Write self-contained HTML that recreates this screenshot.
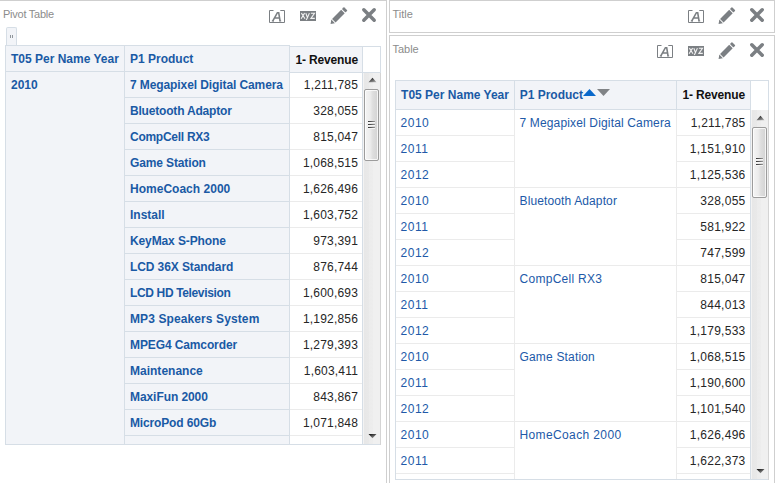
<!DOCTYPE html><html><head><meta charset="utf-8"><style>
html,body{margin:0;padding:0;background:#fff;}
body{width:775px;height:483px;overflow:hidden;position:relative;font-family:"Liberation Sans", sans-serif;}
div,svg{position:absolute;}
.t{font-size:12px;line-height:14px;white-space:nowrap;}
</style></head><body>
<div style="left:-1px;top:0px;width:388px;height:520px;box-sizing:border-box;border:1px solid #cfcfcf"></div>
<div style="left:389px;top:0px;width:386px;height:33px;box-sizing:border-box;border:1px solid #cfcfcf"></div>
<div style="left:389px;top:35px;width:386px;height:520px;box-sizing:border-box;border:1px solid #cfcfcf"></div>
<div style="left:3px;top:8px;font-size:11px;line-height:13px;color:#8c8c8c;letter-spacing:-0.25px">Pivot Table</div>
<div style="left:392.4px;top:8px;font-size:11px;line-height:13px;color:#8c8c8c">Title</div>
<div style="left:392.4px;top:43px;font-size:11px;line-height:13px;color:#8c8c8c">Table</div>
<svg style="left:269px;top:10px" width="16" height="13" viewBox="0 0 16 13">
<path d="M0.5 12.5V0.5H4.5M11.3 0.5H15.5V12.5H0.5" fill="none" stroke="#7b7f83" stroke-width="1"/>
<path d="M3.7 11.2L8.4 2.7H9.7L11.1 11.2M5.3 8.0H10.6" fill="none" stroke="#7b7f83" stroke-width="1.6"/>
<path d="M2.8 11.0H5.0M10.2 11.0H12.2" fill="none" stroke="#7b7f83" stroke-width="1"/>
</svg>
<svg style="left:300px;top:11px" width="16" height="10" viewBox="0 0 16 10">
<rect x="0" y="0" width="16" height="10" fill="#7b7f83"/>
<path d="M1.4 2.1L5.0 7.7M4.6 2.1L1.1 7.7M5.8 2.1L7.7 7.3M9.4 2.1L6.8 8.0Q6.5 8.7 5.9 8.7M10.9 2.3H14.5L10.9 7.4H14.8" fill="none" stroke="#f2f2f2" stroke-width="1.1"/>
</svg>
<svg style="left:328px;top:4px" width="22" height="25" viewBox="328 4 22 25">
<g transform="rotate(45 338 16.5)" fill="#7b7f83">
<rect x="335.5" y="5.6" width="5" height="2.9" rx="0.7"/>
<rect x="335.5" y="9.5" width="5" height="12.9"/>
<path d="M335.5 23.4H340.5L338 27.0Z"/>
</g></svg>
<svg style="left:359px;top:5px" width="20" height="20" viewBox="359 5 20 20">
<path d="M363.8 9.8L374.2 20.2M374.2 9.8L363.8 20.2" stroke="#7b7f83" stroke-width="3.5" stroke-linecap="round"/>
</svg>
<svg style="left:688px;top:10px" width="16" height="13" viewBox="0 0 16 13">
<path d="M0.5 12.5V0.5H4.5M11.3 0.5H15.5V12.5H0.5" fill="none" stroke="#7b7f83" stroke-width="1"/>
<path d="M3.7 11.2L8.4 2.7H9.7L11.1 11.2M5.3 8.0H10.6" fill="none" stroke="#7b7f83" stroke-width="1.6"/>
<path d="M2.8 11.0H5.0M10.2 11.0H12.2" fill="none" stroke="#7b7f83" stroke-width="1"/>
</svg>
<svg style="left:716px;top:4px" width="22" height="25" viewBox="716 4 22 25">
<g transform="rotate(45 726 16.5)" fill="#7b7f83">
<rect x="723.5" y="5.6" width="5" height="2.9" rx="0.7"/>
<rect x="723.5" y="9.5" width="5" height="12.9"/>
<path d="M723.5 23.4H728.5L726 27.0Z"/>
</g></svg>
<svg style="left:747px;top:5px" width="20" height="20" viewBox="747 5 20 20">
<path d="M751.8 9.8L762.2 20.2M762.2 9.8L751.8 20.2" stroke="#7b7f83" stroke-width="3.5" stroke-linecap="round"/>
</svg>
<svg style="left:657px;top:45px" width="16" height="13" viewBox="0 0 16 13">
<path d="M0.5 12.5V0.5H4.5M11.3 0.5H15.5V12.5H0.5" fill="none" stroke="#7b7f83" stroke-width="1"/>
<path d="M3.7 11.2L8.4 2.7H9.7L11.1 11.2M5.3 8.0H10.6" fill="none" stroke="#7b7f83" stroke-width="1.6"/>
<path d="M2.8 11.0H5.0M10.2 11.0H12.2" fill="none" stroke="#7b7f83" stroke-width="1"/>
</svg>
<svg style="left:688px;top:46px" width="16" height="10" viewBox="0 0 16 10">
<rect x="0" y="0" width="16" height="10" fill="#7b7f83"/>
<path d="M1.4 2.1L5.0 7.7M4.6 2.1L1.1 7.7M5.8 2.1L7.7 7.3M9.4 2.1L6.8 8.0Q6.5 8.7 5.9 8.7M10.9 2.3H14.5L10.9 7.4H14.8" fill="none" stroke="#f2f2f2" stroke-width="1.1"/>
</svg>
<svg style="left:716px;top:39px" width="22" height="25" viewBox="716 39 22 25">
<g transform="rotate(45 726 51.5)" fill="#7b7f83">
<rect x="723.5" y="40.6" width="5" height="2.9" rx="0.7"/>
<rect x="723.5" y="44.5" width="5" height="12.9"/>
<path d="M723.5 58.4H728.5L726 62.0Z"/>
</g></svg>
<svg style="left:747px;top:40px" width="20" height="20" viewBox="747 40 20 20">
<path d="M751.8 44.8L762.2 55.2M762.2 44.8L751.8 55.2" stroke="#7b7f83" stroke-width="3.5" stroke-linecap="round"/>
</svg>
<div style="left:6px;top:27px;width:11px;height:19px;box-sizing:border-box;border:1px solid #d6dee6;border-bottom:none;border-radius:2px 2px 0 0;background:#f2f4f8"></div>
<div style="left:10px;top:35px;width:1px;height:3px;background:#8f959b"></div>
<div style="left:12px;top:35px;width:1px;height:3px;background:#8f959b"></div>
<div style="left:5px;top:45px;width:285px;height:400px;background:#f2f4f8"></div>
<div style="left:289px;top:46px;width:74px;height:399px;background:#fff"></div>
<div style="left:5px;top:45px;width:285px;height:1px;background:#d6dee6"></div>
<div style="left:5px;top:71px;width:285px;height:1px;background:#d6dee6"></div>
<div style="left:124px;top:97px;width:166px;height:1px;background:#d6dee6"></div>
<div style="left:124px;top:123px;width:166px;height:1px;background:#d6dee6"></div>
<div style="left:124px;top:149px;width:166px;height:1px;background:#d6dee6"></div>
<div style="left:124px;top:175px;width:166px;height:1px;background:#d6dee6"></div>
<div style="left:124px;top:201px;width:166px;height:1px;background:#d6dee6"></div>
<div style="left:124px;top:227px;width:166px;height:1px;background:#d6dee6"></div>
<div style="left:124px;top:253px;width:166px;height:1px;background:#d6dee6"></div>
<div style="left:124px;top:279px;width:166px;height:1px;background:#d6dee6"></div>
<div style="left:124px;top:305px;width:166px;height:1px;background:#d6dee6"></div>
<div style="left:124px;top:331px;width:166px;height:1px;background:#d6dee6"></div>
<div style="left:124px;top:357px;width:166px;height:1px;background:#d6dee6"></div>
<div style="left:124px;top:383px;width:166px;height:1px;background:#d6dee6"></div>
<div style="left:124px;top:409px;width:166px;height:1px;background:#d6dee6"></div>
<div style="left:124px;top:435px;width:166px;height:1px;background:#d6dee6"></div>
<div style="left:5px;top:444px;width:376px;height:1px;background:#d6dee6"></div>
<div style="left:5px;top:45px;width:1px;height:400px;background:#d6dee6"></div>
<div style="left:124px;top:45px;width:1px;height:400px;background:#d6dee6"></div>
<div style="left:289px;top:45px;width:1px;height:400px;background:#d6dee6"></div>
<div style="left:289px;top:46px;width:92px;height:1px;background:#d6dee6"></div>
<div style="left:290px;top:47px;width:72px;height:25px;background:#f2f4f8"></div>
<div style="left:289px;top:72px;width:92px;height:1px;background:#d6dee6"></div>
<div style="left:290px;top:97px;width:72px;height:1px;background:#ebebeb"></div>
<div style="left:290px;top:123px;width:72px;height:1px;background:#ebebeb"></div>
<div style="left:290px;top:149px;width:72px;height:1px;background:#ebebeb"></div>
<div style="left:290px;top:175px;width:72px;height:1px;background:#ebebeb"></div>
<div style="left:290px;top:201px;width:72px;height:1px;background:#ebebeb"></div>
<div style="left:290px;top:227px;width:72px;height:1px;background:#ebebeb"></div>
<div style="left:290px;top:253px;width:72px;height:1px;background:#ebebeb"></div>
<div style="left:290px;top:279px;width:72px;height:1px;background:#ebebeb"></div>
<div style="left:290px;top:305px;width:72px;height:1px;background:#ebebeb"></div>
<div style="left:290px;top:331px;width:72px;height:1px;background:#ebebeb"></div>
<div style="left:290px;top:357px;width:72px;height:1px;background:#ebebeb"></div>
<div style="left:290px;top:383px;width:72px;height:1px;background:#ebebeb"></div>
<div style="left:290px;top:409px;width:72px;height:1px;background:#ebebeb"></div>
<div style="left:290px;top:435px;width:72px;height:1px;background:#ebebeb"></div>
<div style="left:362px;top:46px;width:1px;height:399px;background:#d6dee6"></div>
<div style="left:380px;top:46px;width:1px;height:27px;background:#d6dee6"></div>
<div style="left:380px;top:73px;width:1px;height:372px;background:#d4d4d4"></div>
<div class="t" style="left:11.00px;top:52px;font-weight:bold;color:#1a5aa5">T05 Per Name Year</div>
<div class="t" style="left:130.00px;top:52px;font-weight:bold;color:#1a5aa5">P1 Product</div>
<div class="t" style="left:57.93px;width:300px;text-align:right;top:53px;letter-spacing:-0.170px;font-weight:bold;color:#111">1- Revenue</div>
<div class="t" style="left:11.00px;top:78px;font-weight:bold;color:#1a5aa5">2010</div>
<div class="t" style="left:130.00px;top:78px;letter-spacing:-0.096px;font-weight:bold;color:#1a5aa5">7 Megapixel Digital Camera</div>
<div class="t" style="left:58.10px;width:300px;text-align:right;top:78px;letter-spacing:0.200px;color:#262626">1,211,785</div>
<div class="t" style="left:130.00px;top:104px;letter-spacing:-0.188px;font-weight:bold;color:#1a5aa5">Bluetooth Adaptor</div>
<div class="t" style="left:58.10px;width:300px;text-align:right;top:104px;letter-spacing:0.200px;color:#262626">328,055</div>
<div class="t" style="left:130.00px;top:130px;letter-spacing:-0.264px;font-weight:bold;color:#1a5aa5">CompCell RX3</div>
<div class="t" style="left:58.10px;width:300px;text-align:right;top:130px;letter-spacing:0.200px;color:#262626">815,047</div>
<div class="t" style="left:130.00px;top:156px;letter-spacing:-0.127px;font-weight:bold;color:#1a5aa5">Game Station</div>
<div class="t" style="left:58.10px;width:300px;text-align:right;top:156px;letter-spacing:0.200px;color:#262626">1,068,515</div>
<div class="t" style="left:130.00px;top:182px;letter-spacing:0.015px;font-weight:bold;color:#1a5aa5">HomeCoach 2000</div>
<div class="t" style="left:58.10px;width:300px;text-align:right;top:182px;letter-spacing:0.200px;color:#262626">1,626,496</div>
<div class="t" style="left:130.00px;top:208px;letter-spacing:-0.017px;font-weight:bold;color:#1a5aa5">Install</div>
<div class="t" style="left:58.10px;width:300px;text-align:right;top:208px;letter-spacing:0.200px;color:#262626">1,603,752</div>
<div class="t" style="left:130.00px;top:234px;letter-spacing:-0.115px;font-weight:bold;color:#1a5aa5">KeyMax S-Phone</div>
<div class="t" style="left:58.10px;width:300px;text-align:right;top:234px;letter-spacing:0.200px;color:#262626">973,391</div>
<div class="t" style="left:130.00px;top:260px;letter-spacing:-0.093px;font-weight:bold;color:#1a5aa5">LCD 36X Standard</div>
<div class="t" style="left:58.10px;width:300px;text-align:right;top:260px;letter-spacing:0.200px;color:#262626">876,744</div>
<div class="t" style="left:130.00px;top:286px;letter-spacing:-0.356px;font-weight:bold;color:#1a5aa5">LCD HD Television</div>
<div class="t" style="left:58.10px;width:300px;text-align:right;top:286px;letter-spacing:0.200px;color:#262626">1,600,693</div>
<div class="t" style="left:130.00px;top:312px;letter-spacing:0.106px;font-weight:bold;color:#1a5aa5">MP3 Speakers System</div>
<div class="t" style="left:58.10px;width:300px;text-align:right;top:312px;letter-spacing:0.200px;color:#262626">1,192,856</div>
<div class="t" style="left:130.00px;top:338px;letter-spacing:-0.114px;font-weight:bold;color:#1a5aa5">MPEG4 Camcorder</div>
<div class="t" style="left:58.10px;width:300px;text-align:right;top:338px;letter-spacing:0.200px;color:#262626">1,279,393</div>
<div class="t" style="left:130.00px;top:364px;letter-spacing:0.010px;font-weight:bold;color:#1a5aa5">Maintenance</div>
<div class="t" style="left:58.10px;width:300px;text-align:right;top:364px;letter-spacing:0.200px;color:#262626">1,603,411</div>
<div class="t" style="left:130.00px;top:390px;letter-spacing:-0.073px;font-weight:bold;color:#1a5aa5">MaxiFun 2000</div>
<div class="t" style="left:58.10px;width:300px;text-align:right;top:390px;letter-spacing:0.200px;color:#262626">843,867</div>
<div class="t" style="left:130.00px;top:416px;letter-spacing:-0.150px;font-weight:bold;color:#1a5aa5">MicroPod 60Gb</div>
<div class="t" style="left:58.10px;width:300px;text-align:right;top:416px;letter-spacing:0.200px;color:#262626">1,071,848</div>
<div style="left:363px;top:73px;width:17px;height:371px;background:linear-gradient(to right,#f3f3f3 0,#f3f3f3 1px,#e7e7e7 1px,#e9e9e9 6px,#ececec 6px,#ededed 10px,#f0f0f0 10px,#f0f0f0 17px)"></div>
<svg style="left:363px;top:73px" width="17" height="16" viewBox="0 0 17 16"><defs><linearGradient id="ag" x1="0.2" y1="0" x2="0.9" y2="1"><stop offset="0" stop-color="#111"/><stop offset="1" stop-color="#b0b0b0"/></linearGradient></defs><path d="M5.5 9.2 L13.5 9.2 L9.5 4.8 Z" fill="url(#ag)"/></svg>
<svg style="left:363px;top:428px" width="17" height="16" viewBox="0 0 17 16"><path d="M5.5 6 L13.5 6 L9.5 10.3 Z" fill="url(#ag)"/></svg>
<div style="left:364px;top:89px;width:15px;height:72px;box-sizing:border-box;border:1px solid #9c9c9c;border-radius:2px;box-shadow:inset 0 0 0 1px rgba(255,255,255,0.75);background:linear-gradient(to right,#f4f4f4 0,#ececec 40%,#dedede 60%,#d3d3d3 100%)"></div>
<div style="left:368px;top:121px;width:7px;height:2px;background:linear-gradient(transparent 50%,#f6f6f6 50%),linear-gradient(to right,#333,#555 40%,#999)"></div>
<div style="left:368px;top:124px;width:7px;height:2px;background:linear-gradient(transparent 50%,#f6f6f6 50%),linear-gradient(to right,#333,#555 40%,#999)"></div>
<div style="left:368px;top:127px;width:7px;height:2px;background:linear-gradient(transparent 50%,#f6f6f6 50%),linear-gradient(to right,#333,#555 40%,#999)"></div>
<div style="left:395px;top:80px;width:374px;height:400px;background:#fff"></div>
<div style="left:396px;top:81px;width:355px;height:28px;background:#f2f4f8"></div>
<div style="left:395px;top:80px;width:374px;height:1px;background:#d6dee6"></div>
<div style="left:395px;top:109px;width:356px;height:1px;background:#d6dee6"></div>
<div style="left:751px;top:109px;width:17px;height:1px;background:#fff"></div>
<div style="left:395px;top:479px;width:374px;height:1px;background:#d6dee6"></div>
<div style="left:395px;top:80px;width:1px;height:400px;background:#d6dee6"></div>
<div style="left:514px;top:81px;width:1px;height:28px;background:#d6dee6"></div>
<div style="left:676px;top:81px;width:1px;height:28px;background:#d6dee6"></div>
<div style="left:750px;top:80px;width:1px;height:400px;background:#d6dee6"></div>
<div style="left:768px;top:80px;width:1px;height:30px;background:#d6dee6"></div>
<div style="left:768px;top:110px;width:1px;height:370px;background:#d4d4d4"></div>
<div style="left:514px;top:110px;width:1px;height:369px;background:#ebebeb"></div>
<div style="left:676px;top:110px;width:1px;height:369px;background:#ebebeb"></div>
<div style="left:396px;top:135px;width:118px;height:1px;background:#ebebeb"></div>
<div style="left:677px;top:135px;width:73px;height:1px;background:#ebebeb"></div>
<div style="left:396px;top:161px;width:118px;height:1px;background:#ebebeb"></div>
<div style="left:677px;top:161px;width:73px;height:1px;background:#ebebeb"></div>
<div style="left:396px;top:187px;width:118px;height:1px;background:#ebebeb"></div>
<div style="left:677px;top:187px;width:73px;height:1px;background:#ebebeb"></div>
<div style="left:515px;top:187px;width:161px;height:1px;background:#ebebeb"></div>
<div style="left:396px;top:213px;width:118px;height:1px;background:#ebebeb"></div>
<div style="left:677px;top:213px;width:73px;height:1px;background:#ebebeb"></div>
<div style="left:396px;top:239px;width:118px;height:1px;background:#ebebeb"></div>
<div style="left:677px;top:239px;width:73px;height:1px;background:#ebebeb"></div>
<div style="left:396px;top:265px;width:118px;height:1px;background:#ebebeb"></div>
<div style="left:677px;top:265px;width:73px;height:1px;background:#ebebeb"></div>
<div style="left:515px;top:265px;width:161px;height:1px;background:#ebebeb"></div>
<div style="left:396px;top:291px;width:118px;height:1px;background:#ebebeb"></div>
<div style="left:677px;top:291px;width:73px;height:1px;background:#ebebeb"></div>
<div style="left:396px;top:317px;width:118px;height:1px;background:#ebebeb"></div>
<div style="left:677px;top:317px;width:73px;height:1px;background:#ebebeb"></div>
<div style="left:396px;top:343px;width:118px;height:1px;background:#ebebeb"></div>
<div style="left:677px;top:343px;width:73px;height:1px;background:#ebebeb"></div>
<div style="left:515px;top:343px;width:161px;height:1px;background:#ebebeb"></div>
<div style="left:396px;top:369px;width:118px;height:1px;background:#ebebeb"></div>
<div style="left:677px;top:369px;width:73px;height:1px;background:#ebebeb"></div>
<div style="left:396px;top:395px;width:118px;height:1px;background:#ebebeb"></div>
<div style="left:677px;top:395px;width:73px;height:1px;background:#ebebeb"></div>
<div style="left:396px;top:421px;width:118px;height:1px;background:#ebebeb"></div>
<div style="left:677px;top:421px;width:73px;height:1px;background:#ebebeb"></div>
<div style="left:515px;top:421px;width:161px;height:1px;background:#ebebeb"></div>
<div style="left:396px;top:447px;width:118px;height:1px;background:#ebebeb"></div>
<div style="left:677px;top:447px;width:73px;height:1px;background:#ebebeb"></div>
<div style="left:396px;top:473px;width:118px;height:1px;background:#ebebeb"></div>
<div style="left:677px;top:473px;width:73px;height:1px;background:#ebebeb"></div>
<div class="t" style="left:401.10px;top:88px;font-weight:bold;color:#1a5aa5">T05 Per Name Year</div>
<div class="t" style="left:519.70px;top:88px;font-weight:bold;color:#1a5aa5">P1 Product</div>
<div class="t" style="left:445.06px;width:300px;text-align:right;top:88px;letter-spacing:-0.140px;font-weight:bold;color:#111">1- Revenue</div>
<svg style="left:583px;top:88px" width="28" height="9" viewBox="0 0 28 9"><path d="M0 8 L13 8 L6.5 1 Z" fill="#0a69cb"/><path d="M14 1 L27 1 L20.5 8 Z" fill="#808386"/></svg>
<div class="t" style="left:400.45px;top:116px;letter-spacing:0.550px;color:#2159a8">2010</div>
<div class="t" style="left:519.50px;top:116px;letter-spacing:0.152px;color:#2159a8">7 Megapixel Digital Camera</div>
<div class="t" style="left:445.57px;width:300px;text-align:right;top:116px;letter-spacing:0.270px;color:#262626">1,211,785</div>
<div class="t" style="left:400.45px;top:142px;letter-spacing:0.550px;color:#2159a8">2011</div>
<div class="t" style="left:445.57px;width:300px;text-align:right;top:142px;letter-spacing:0.270px;color:#262626">1,151,910</div>
<div class="t" style="left:400.45px;top:168px;letter-spacing:0.550px;color:#2159a8">2012</div>
<div class="t" style="left:445.57px;width:300px;text-align:right;top:168px;letter-spacing:0.270px;color:#262626">1,125,536</div>
<div class="t" style="left:400.45px;top:194px;letter-spacing:0.550px;color:#2159a8">2010</div>
<div class="t" style="left:519.50px;top:194px;letter-spacing:0.125px;color:#2159a8">Bluetooth Adaptor</div>
<div class="t" style="left:445.57px;width:300px;text-align:right;top:194px;letter-spacing:0.270px;color:#262626">328,055</div>
<div class="t" style="left:400.45px;top:220px;letter-spacing:0.550px;color:#2159a8">2011</div>
<div class="t" style="left:445.57px;width:300px;text-align:right;top:220px;letter-spacing:0.270px;color:#262626">581,922</div>
<div class="t" style="left:400.45px;top:246px;letter-spacing:0.550px;color:#2159a8">2012</div>
<div class="t" style="left:445.57px;width:300px;text-align:right;top:246px;letter-spacing:0.270px;color:#262626">747,599</div>
<div class="t" style="left:400.45px;top:272px;letter-spacing:0.550px;color:#2159a8">2010</div>
<div class="t" style="left:519.50px;top:272px;letter-spacing:0.282px;color:#2159a8">CompCell RX3</div>
<div class="t" style="left:445.57px;width:300px;text-align:right;top:272px;letter-spacing:0.270px;color:#262626">815,047</div>
<div class="t" style="left:400.45px;top:298px;letter-spacing:0.550px;color:#2159a8">2011</div>
<div class="t" style="left:445.57px;width:300px;text-align:right;top:298px;letter-spacing:0.270px;color:#262626">844,013</div>
<div class="t" style="left:400.45px;top:324px;letter-spacing:0.550px;color:#2159a8">2012</div>
<div class="t" style="left:445.57px;width:300px;text-align:right;top:324px;letter-spacing:0.270px;color:#262626">1,179,533</div>
<div class="t" style="left:400.45px;top:350px;letter-spacing:0.550px;color:#2159a8">2010</div>
<div class="t" style="left:519.50px;top:350px;letter-spacing:0.173px;color:#2159a8">Game Station</div>
<div class="t" style="left:445.57px;width:300px;text-align:right;top:350px;letter-spacing:0.270px;color:#262626">1,068,515</div>
<div class="t" style="left:400.45px;top:376px;letter-spacing:0.550px;color:#2159a8">2011</div>
<div class="t" style="left:445.57px;width:300px;text-align:right;top:376px;letter-spacing:0.270px;color:#262626">1,190,600</div>
<div class="t" style="left:400.45px;top:402px;letter-spacing:0.550px;color:#2159a8">2012</div>
<div class="t" style="left:445.57px;width:300px;text-align:right;top:402px;letter-spacing:0.270px;color:#262626">1,101,540</div>
<div class="t" style="left:400.45px;top:428px;letter-spacing:0.550px;color:#2159a8">2010</div>
<div class="t" style="left:519.50px;top:428px;letter-spacing:0.377px;color:#2159a8">HomeCoach 2000</div>
<div class="t" style="left:445.57px;width:300px;text-align:right;top:428px;letter-spacing:0.270px;color:#262626">1,626,496</div>
<div class="t" style="left:400.45px;top:454px;letter-spacing:0.550px;color:#2159a8">2011</div>
<div class="t" style="left:445.57px;width:300px;text-align:right;top:454px;letter-spacing:0.270px;color:#262626">1,622,373</div>
<div style="left:751px;top:110px;width:17px;height:369px;background:linear-gradient(to right,#f3f3f3 0,#f3f3f3 1px,#e7e7e7 1px,#e9e9e9 6px,#ececec 6px,#ededed 10px,#f0f0f0 10px,#f0f0f0 17px)"></div>
<svg style="left:751px;top:110.8px" width="17" height="16" viewBox="0 0 17 16"><defs><linearGradient id="ag" x1="0.2" y1="0" x2="0.9" y2="1"><stop offset="0" stop-color="#111"/><stop offset="1" stop-color="#b0b0b0"/></linearGradient></defs><path d="M5.5 9.2 L13.5 9.2 L9.5 4.8 Z" fill="url(#ag)"/></svg>
<svg style="left:751px;top:463px" width="17" height="16" viewBox="0 0 17 16"><path d="M5.5 6 L13.5 6 L9.5 10.3 Z" fill="url(#ag)"/></svg>
<div style="left:752px;top:127px;width:15px;height:71px;box-sizing:border-box;border:1px solid #9c9c9c;border-radius:2px;box-shadow:inset 0 0 0 1px rgba(255,255,255,0.75);background:linear-gradient(to right,#f4f4f4 0,#ececec 40%,#dedede 60%,#d3d3d3 100%)"></div>
<div style="left:756px;top:158px;width:7px;height:2px;background:linear-gradient(transparent 50%,#f6f6f6 50%),linear-gradient(to right,#333,#555 40%,#999)"></div>
<div style="left:756px;top:161px;width:7px;height:2px;background:linear-gradient(transparent 50%,#f6f6f6 50%),linear-gradient(to right,#333,#555 40%,#999)"></div>
<div style="left:756px;top:164px;width:7px;height:2px;background:linear-gradient(transparent 50%,#f6f6f6 50%),linear-gradient(to right,#333,#555 40%,#999)"></div>
</body></html>
